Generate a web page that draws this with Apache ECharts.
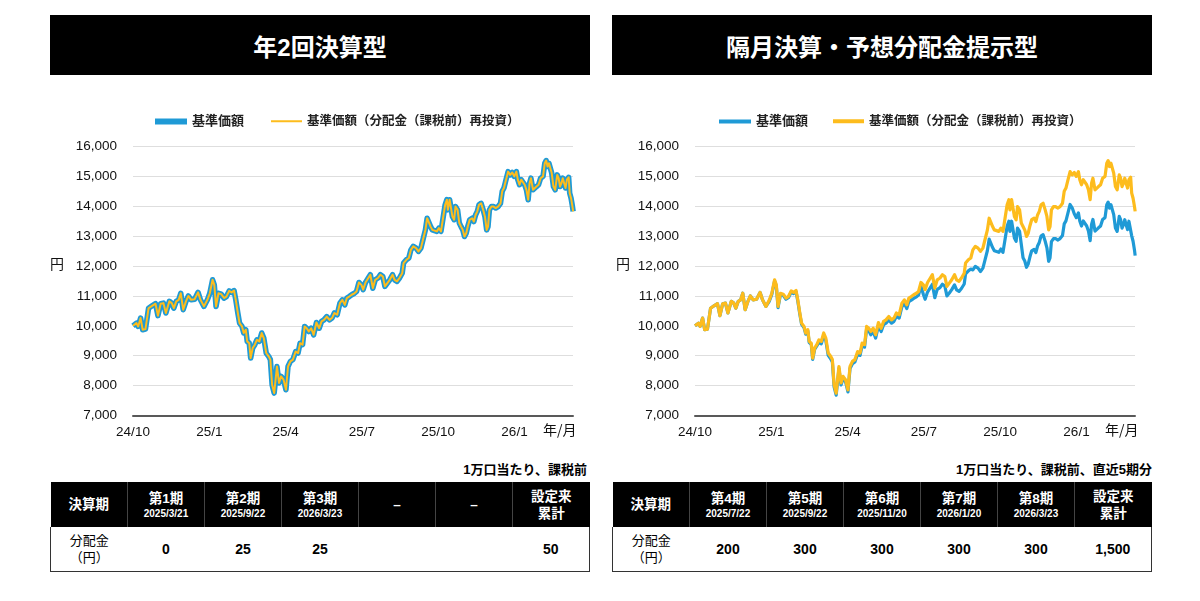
<!DOCTYPE html>
<html>
<head>
<meta charset="utf-8">
<script src="https://cdn.jsdelivr.net/npm/echarts/dist/echarts.min.js"></script>
<style>
  body { margin: 0; width: 1200px; height: 601px; background: #fff; position: relative; overflow: hidden;
         font-family: "Liberation Sans", Arial, "Noto Sans CJK JP", sans-serif; color: #000; }
  .hdr { position: absolute; top: 15px; width: 540px; height: 60px; background: #000; color: #fff;
         font: bold 24px "Liberation Sans", "Noto Sans CJK JP", sans-serif;
         display: flex; align-items: center; justify-content: center; }
  .chart { position: absolute; top: 100px; width: 560px; height: 350px; }
  .note { position: absolute; top: 459px; width: 540px; text-align: right; font-weight: bold; font-size: 13px; }
  table { position: absolute; top: 482px; width: 540px; border-collapse: collapse; table-layout: fixed; }
  th { background: #000; color: #fff; height: 45px; padding: 0; border-right: 1px solid #444; font-weight: bold; }
  th:last-child { border-right: none; }
  th .p { font-size: 13.5px; line-height: 17px; }
  th .d { font-size: 10px; line-height: 13px; }
  td { height: 44px; padding: 0; text-align: center; border-bottom: 1px solid #333; }
  td:first-child { border-left: 1px solid #333; font-size: 13px; line-height: 17px; }
  td:last-child { border-right: 1px solid #333; }
  td.v { font-weight: bold; font-size: 14px; }
</style>
</head>
<body>
<div class="hdr" style="left:50px">年2回決算型</div>
<div class="hdr" style="left:612px">隔月決算・予想分配金提示型</div>
<div id="c1" class="chart" style="left:40px"></div>
<div id="c2" class="chart" style="left:602px"></div>
<div class="note" style="left:47px">1万口当たり、課税前</div>
<div class="note" style="left:612px">1万口当たり、課税前、直近5期分</div>
<table id="t1" style="left:50px"></table>
<table id="t2" style="left:612px"></table>
<script>
// x position of each point, in months after the 24/10 tick
const monthPos = [0.00,0.136,0.204,0.299,0.381,0.490,0.612,0.748,0.884,0.980,1.088,1.197,1.293,1.429,1.524,1.605,1.701,1.796,1.878,1.973,
  2.082,2.177,2.286,2.422,2.558,2.653,2.789,2.925,3.020,3.129,3.197,3.265,3.361,3.469,3.578,3.673,3.782,3.878,3.973,4.041,
  4.122,4.190,4.286,4.354,4.435,4.490,4.571,4.626,4.707,4.789,4.871,4.966,5.061,5.143,5.238,5.333,5.401,5.469,5.551,5.605,
  5.660,5.741,5.823,5.918,6.014,6.095,6.190,6.286,6.395,6.490,6.571,6.667,6.748,6.830,6.912,7.007,7.102,7.211,7.320,7.415,
  7.510,7.619,7.728,7.823,7.918,8.027,8.136,8.231,8.327,8.408,8.503,8.599,8.707,8.789,8.884,8.980,9.048,9.143,9.252,9.333,
  9.429,9.524,9.633,9.728,9.823,9.905,10.000,10.095,10.204,10.286,10.381,10.476,10.585,10.639,10.748,10.844,10.925,11.020,11.129,11.224,
  11.320,11.401,11.497,11.565,11.633,11.701,11.769,11.837,11.946,12.027,12.109,12.190,12.272,12.340,12.381,12.449,12.517,12.558,12.626,12.680,
  12.762,12.830,12.898,12.966,13.034,13.102,13.170,13.238,13.333,13.401,13.469,13.537,13.605,13.687,13.769,13.837,13.905,13.959,14.014,14.095,
  14.177,14.259,14.354,14.449,14.517,14.585,14.667,14.748,14.830,14.912,14.993,15.075,15.129,15.197,15.265,15.333,15.401,15.469,15.537,15.592,
  15.646,15.728,15.782,15.864,15.946,16.027,16.122,16.190,16.245,16.299,16.354,16.408,16.463,16.531,16.599,16.680,16.735,16.789,16.844,16.898,
  16.952,17.007,17.061,17.129,17.170,17.224,17.279,17.306];

// 基準価額（分配金（課税前）再投資） - same path in both panels
const navReinvest = [10000,10090,9980,10260,9870,9890,10590,10670,10740,10340,10740,10760,10430,10820,10760,10590,10820,10870,11090,10540,
  10820,11000,10870,10890,11120,10870,10650,10870,11090,11540,11370,10650,11090,11060,10930,10980,11170,11120,11180,10870,
  10430,10090,9980,9760,9870,9480,9420,8920,9260,9370,9530,9480,9760,9590,9090,8980,8870,8030,7750,7690,
  8640,8090,8310,8200,7860,8640,8810,8870,9140,9090,9420,9370,9980,9920,9810,9920,9700,10110,9920,10150,
  10200,10310,10200,10260,10430,10370,10760,10870,10700,10930,10980,11040,11090,11150,11450,11370,11210,11450,11600,11710,
  11260,11540,11600,11710,11650,11320,11430,11540,11710,11540,11490,11600,11760,12100,12210,12270,12540,12660,12600,12490,
  12600,12880,13210,13600,13550,13320,13210,13160,13160,13270,13160,13600,14050,14220,13880,14220,14220,13660,13550,13990,
  13880,13440,13320,13210,12990,13100,13350,13550,13600,13490,13710,13830,14050,14100,13880,13660,13210,13320,13880,13990,
  13990,13940,13990,14100,14500,14610,14890,15160,15050,15130,15000,15160,14890,14720,14890,14940,14720,14550,14220,14770,
  14940,14550,14610,14660,14720,14940,15000,15440,15530,15330,15440,15500,15110,14660,14550,15050,14940,14660,14770,14940,
  14770,14610,14890,14970,14440,14270,13990,13830];

// 年2回決算型 基準価額 (distributions of 25 yen do not separate it from the reinvested line at this scale)
const navSemiannual = navReinvest;

// 隔月決算型 基準価額
const navBimonthly = [10000,10090,9980,10260,9870,9890,10590,10670,10740,10340,10740,10760,10430,10820,10760,10590,10820,10870,11090,10540,
  10820,11000,10870,10890,11120,10870,10650,10830,11050,11500,11330,10610,11050,11020,10890,10940,11130,11080,11140,10830,
  10390,10050,9940,9720,9830,9440,9380,8880,9220,9330,9450,9400,9680,9510,9010,8900,8790,7960,7680,7620,
  8570,8020,8240,8130,7790,8570,8730,8790,9060,9010,9340,9290,9900,9840,9700,9810,9590,10000,9810,10040,
  10090,10200,10090,10150,10320,10260,10640,10750,10580,10810,10860,10920,10970,11030,11330,11050,10890,11130,11280,11390,
  10940,11220,11280,11390,11330,11000,11100,11210,11370,11200,11150,11250,11400,11740,11840,11900,11870,11990,11930,11820,
  11930,12200,12520,12900,12850,12620,12510,12460,12460,12570,12460,12890,13330,13500,13160,13500,13500,12940,12830,13270,
  13160,12720,12280,12170,11960,12070,12310,12510,12560,12450,12670,12790,13000,13050,12830,12610,12160,12270,12820,12920,
  12920,12870,12920,13020,13410,13510,13790,14060,13950,13750,13620,13780,13510,13340,13510,13560,13340,13170,12850,13390,
  13560,13170,13230,13280,13340,13560,13620,14050,14140,13940,14050,14110,13720,13270,13160,13660,13550,13270,13380,13550,
  13380,13220,13500,13560,13010,12830,12540,12350];

const tickLabels = ['24/10', '25/1', '25/4', '25/7', '25/10', '26/1'];
const yTicks = { min: 7000, max: 16000, step: 1000 };

// distribution tables
const semiPeriods = ['第1期', '第2期', '第3期', '–', '–'];
const semiDates = ['2025/3/21', '2025/9/22', '2026/3/23', '', ''];
const semiAmounts = [0, 25, 25, null, null];
const semiTotal = 50;

const biPeriods = ['第4期', '第5期', '第6期', '第7期', '第8期'];
const biDates = ['2025/7/22', '2025/9/22', '2025/11/20', '2026/1/20', '2026/3/23'];
const biAmounts = [200, 300, 300, 300, 300];
const biTotal = 1500;

const BLUE = '#1f9ad6';
const GOLD = '#fdbc1d';
const FONT = '"Liberation Sans", Arial, "Noto Sans CJK JP", sans-serif';
const NAME_BASE = '基準価額';
const NAME_RE = '基準価額（分配金（課税前）再投資）';

function pairs (ys) {
  return monthPos.map((m, i) => [m, ys[i]]);
}

function buildChart (dom, blueData, blueWidth, goldWidth, iconH, pos) {
  let chart = echarts.init(dom, null, { renderer: 'canvas' });
  chart.setOption({
    animation: false,
    grid: { left: pos.gl, right: pos.gr, top: 46.5, height: 269, containLabel: false },
    legend: [
      { data: [NAME_BASE], left: pos.l1, top: 10, icon: 'rect', itemWidth: 32, itemHeight: iconH[0],
        textStyle: { fontFamily: FONT, fontSize: 13, fontWeight: 'bold', color: '#222' } },
      { data: [NAME_RE], left: pos.l2, top: 10, icon: 'rect', itemWidth: 31, itemHeight: iconH[1],
        textStyle: { fontFamily: FONT, fontSize: 12.5, fontWeight: 'bold', color: '#222' } }
    ],
    xAxis: {
      type: 'value', min: 0, max: 17.3, interval: 3,
      axisLine: { lineStyle: { color: '#595959', width: 2 } },
      axisTick: { show: false },
      splitLine: { show: false },
      axisLabel: {
        showMaxLabel: false, margin: 10, fontSize: 13.5, color: '#111', fontFamily: FONT,
        formatter: v => (Math.abs(v % 3) < 1e-6 ? tickLabels[Math.round(v / 3)] || '' : '')
      }
    },
    yAxis: {
      type: 'value', min: yTicks.min, max: yTicks.max, interval: yTicks.step,
      axisLine: { show: false },
      axisTick: { show: false },
      splitLine: { lineStyle: { color: '#dedede', width: 1.2 } },
      axisLabel: { margin: 16, fontSize: 13.5, color: '#111', fontFamily: FONT,
        formatter: v => v.toLocaleString('en-US') }
    },
    graphic: [
      { type: 'text', left: pos.yen, top: 157, style: { text: '円', font: '14px "Noto Sans CJK JP"', fill: '#111' } },
      { type: 'text', left: 503, top: 323, style: { text: '年/月', font: '14px "Noto Sans CJK JP"', fill: '#111' } }
    ],
    series: [
      { name: NAME_BASE, type: 'line', data: pairs(blueData), showSymbol: false, color: BLUE,
        lineStyle: { width: blueWidth, color: BLUE, join: 'round' }, z: 2 },
      { name: NAME_RE, type: 'line', data: pairs(navReinvest), showSymbol: false, color: GOLD,
        lineStyle: { width: goldWidth, color: GOLD, join: 'round' }, z: 3 }
    ]
  });
  return chart;
}

buildChart(document.getElementById('c1'), navSemiannual, 5.5, 2, [6, 2],
  { gl: 93, gr: 27, l1: 110, l2: 226, yen: 10 });
buildChart(document.getElementById('c2'), navBimonthly, 3.2, 3.2, [4, 4],
  { gl: 93, gr: 27, l1: 112, l2: 226, yen: 14 });

function fmt (n) {
  return n === null ? '' : n.toLocaleString('en-US');
}

function buildTable (el, periods, dates, amounts, total) {
  let head = '<tr><th><div class="p">決算期</div></th>';
  periods.forEach((p, i) => {
    head += '<th><div class="p">' + p + '</div>' + (dates[i] ? '<div class="d">' + dates[i] + '</div>' : '') + '</th>';
  });
  head += '<th><div class="p">設定来</div><div class="p">累計</div></th></tr>';
  let body = '<tr><td>分配金<br>（円）</td>';
  amounts.forEach(a => { body += '<td class="v">' + fmt(a) + '</td>'; });
  body += '<td class="v">' + fmt(total) + '</td></tr>';
  el.innerHTML = head + body;
}

buildTable(document.getElementById('t1'), semiPeriods, semiDates, semiAmounts, semiTotal);
buildTable(document.getElementById('t2'), biPeriods, biDates, biAmounts, biTotal);
</script>
</body>
</html>
